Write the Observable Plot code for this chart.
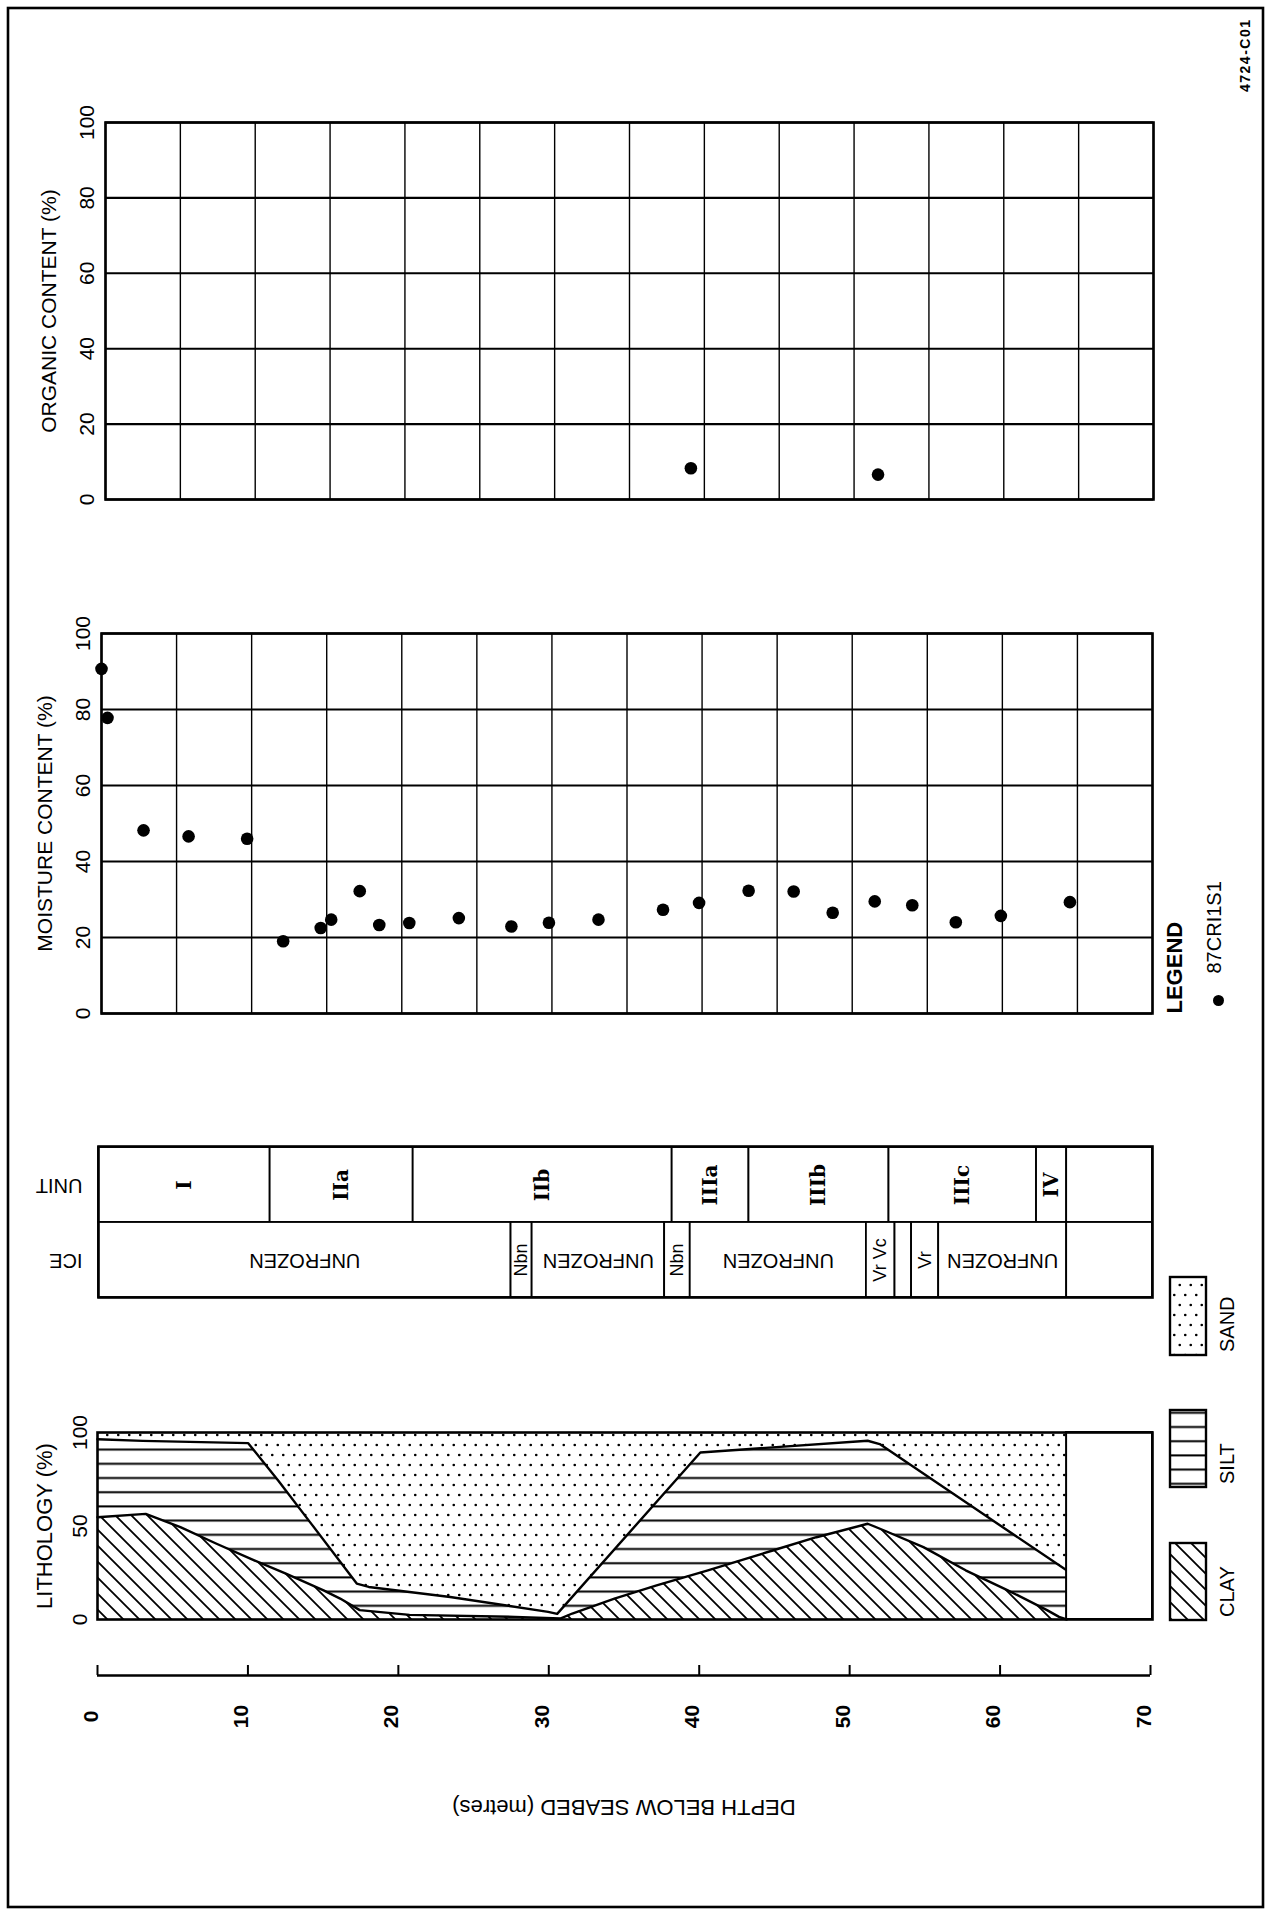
<!DOCTYPE html>
<html>
<head>
<meta charset="utf-8">
<script src="https://cdn.jsdelivr.net/npm/d3@7"></script>
<script src="https://cdn.jsdelivr.net/npm/@observablehq/plot@0.6"></script>
<style>
html, body { margin: 0; padding: 0; background: #fff; }
#page { position: relative; width: 1267px; height: 1912px; overflow: hidden; background: #fff; }
</style>
</head>
<body>
<div id="page"></div>
<script>
// ---------------- DATA ----------------
const depthTicks = [0, 10, 20, 30, 40, 50, 60, 70];
const gridDepths = [0, 5, 10, 15, 20, 25, 30, 35, 40, 45, 50, 55, 60, 65, 70];
const percentTicks = [0, 20, 40, 60, 80, 100];
const lithoTicks = [0, 50, 100];

// Organic content (%)
const organicDepth = [39.1, 51.6];
const organicValue = [8.3, 6.6];

// Moisture content (%) - 87CRI1S1
const moistureDepth = [0.0, 0.4, 2.8, 5.8, 9.7, 12.1, 14.6, 15.3, 17.2, 18.5, 20.5, 23.8, 27.3, 29.8, 33.1, 37.4, 39.8, 43.1, 46.1, 48.7, 51.5, 54.0, 56.9, 59.9, 64.5];
const moistureValue = [90.7, 77.8, 48.2, 46.6, 46.0, 19.0, 22.5, 24.7, 32.2, 23.3, 23.8, 25.1, 22.9, 23.9, 24.7, 27.3, 29.1, 32.3, 32.1, 26.5, 29.5, 28.5, 24.0, 25.7, 29.3];

// Lithology: clay (%) and clay + silt (%) boundaries
const clayDepth = [0, 3.2, 5.5, 7.9, 10.4, 12.5, 15.0, 16.1, 17.4, 20.7, 27.7, 30.7, 31.5, 34.3, 37.1, 40.5, 44.8, 47.7, 51.1, 52.2, 54.8, 57.6, 60.4, 63.0, 63.8, 64.3];
const clayValue = [54.7, 56.5, 49.4, 40.5, 31.6, 24.5, 15.6, 11.2, 5.0, 2.5, 1.4, 0.5, 3.2, 11.2, 18.3, 26.3, 36.9, 44.0, 51.2, 47.6, 38.7, 26.3, 15.6, 5.0, 1.4, 0];
const siltDepth = [0, 3.0, 10.0, 12.0, 14.2, 17.2, 18.0, 23.4, 29.9, 30.5, 40.0, 51.1, 51.9, 64.3];
const siltValue = [96.4, 95.5, 94.3, 74.2, 51.0, 19.2, 17.4, 12.0, 4.1, 3.0, 89.3, 95.6, 93.8, 26.3];

// Stratigraphic units
const unitName = ["I", "IIa", "IIb", "IIIa", "IIIb", "IIIc", "IV", ""];
const unitStart = [0, 11.4, 20.9, 38.1, 43.2, 52.5, 62.3, 64.3];
const unitEnd = [11.4, 20.9, 38.1, 43.2, 52.5, 62.3, 64.3, 70];

// Ice description
const iceName = ["UNFROZEN", "Nbn", "UNFROZEN", "Nbn", "UNFROZEN", "Vr Vc", "", "Vr", "UNFROZEN", ""];
const iceStart = [0, 27.4, 28.8, 37.6, 39.3, 51.0, 52.9, 54.0, 55.8, 64.3];
const iceEnd = [27.4, 28.8, 37.6, 39.3, 51.0, 52.9, 54.0, 55.8, 64.3, 70];

// ---------------- TABLES ----------------
const organic = organicDepth.map((d, i) => ({depth: d, value: organicValue[i]}));
const moisture = moistureDepth.map((d, i) => ({depth: d, value: moistureValue[i]}));
const clay = clayDepth.map((d, i) => ({depth: d, value: clayValue[i]}));
const silt = siltDepth.map((d, i) => ({depth: d, value: siltValue[i]}));
const units = unitName.map((n, i) => ({name: n, start: unitStart[i], end: unitEnd[i]}));
const ice = iceName.map((n, i) => ({name: n, start: iceStart[i], end: iceEnd[i]}));
const lithoEnd = siltDepth[siltDepth.length - 1];

// ---------------- HELPERS ----------------
const FONT = "'Liberation Sans', Arial, Helvetica, sans-serif";
const page = document.getElementById("page");
function place(svg, top) {
  svg.style.position = "absolute";
  svg.style.left = "0px";
  svg.style.top = top + "px";
  svg.style.maxWidth = "none";
  page.appendChild(svg);
}
const baseStyle = {background: "transparent", overflow: "visible", fontFamily: FONT, color: "black"};

function percentPanel(data, title, opts) {
  return Plot.plot({
    width: 1267, height: 440,
    marginTop: opts.mt, marginBottom: opts.mb, marginLeft: opts.ml, marginRight: opts.mr,
    style: baseStyle,
    x: {domain: [0, 70], axis: null},
    y: {domain: [0, 100], axis: null},
    marks: [
      Plot.ruleX(gridDepths, {x: d => d, stroke: "black", strokeWidth: 1.4}),
      Plot.ruleY(percentTicks, {y: d => d, stroke: "black", strokeWidth: 2.1}),
      Plot.frame({stroke: "black", strokeWidth: 2.6}),
      Plot.text(percentTicks, {y: d => d, text: d => String(d), frameAnchor: "left", textAnchor: "middle", dx: -18, rotate: -90, fontSize: 21, fill: "black"}),
      Plot.text([title], {frameAnchor: "left", textAnchor: "middle", dx: -56, rotate: -90, fontSize: 21, fill: "black"}),
      Plot.dot(data, {x: "depth", y: "value", r: 6.3, fill: "black", stroke: "none"}),
      ...(opts.extra || [])
    ]
  });
}

// ---------------- ORGANIC ----------------
place(percentPanel(organic, "ORGANIC CONTENT (%)", {mt: 32, mb: 31, ml: 105, mr: 114}), 90);

// ---------------- MOISTURE ----------------
place(percentPanel(moisture, "MOISTURE CONTENT (%)", {
  mt: 33, mb: 27, ml: 101, mr: 115,
  extra: [
    Plot.text(["LEGEND"], {frameAnchor: "bottom-right", dx: 29, rotate: -90, textAnchor: "start", fontSize: 22, fontWeight: "bold", fill: "black"}),
    Plot.dot(["87CRI1S1"], {frameAnchor: "bottom-right", dx: 66, dy: -13, r: 5.5, fill: "black"}),
    Plot.text(["87CRI1S1"], {frameAnchor: "bottom-right", dx: 68, dy: -40, rotate: -90, textAnchor: "start", fontSize: 20, fill: "black"})
  ]
}), 600);

// ---------------- UNIT / ICE ----------------
const roman = "'DejaVu Serif', 'Liberation Serif', serif";
place(Plot.plot({
  width: 1267, height: 180,
  marginTop: 16, marginBottom: 13, marginLeft: 98, marginRight: 115,
  style: baseStyle,
  x: {domain: [0, 70], axis: null},
  y: {domain: ["UNIT", "ICE"], axis: null, padding: 0},
  marks: [
    Plot.barX(units, {x1: "start", x2: "end", y: () => "UNIT", fill: "white", stroke: "black", strokeWidth: 1.8}),
    Plot.barX(ice, {x1: "start", x2: "end", y: () => "ICE", fill: "white", stroke: "black", strokeWidth: 1.8}),
    Plot.frame({stroke: "black", strokeWidth: 2.6}),
    Plot.text(units.filter(d => d.name), {x: d => (d.start + d.end) / 2, y: () => "UNIT", text: "name", rotate: -90, fontFamily: roman, fontWeight: "bold", fontSize: 20, fill: "black"}),
    Plot.text(ice.filter(d => d.name === "UNFROZEN"), {x: d => (d.start + d.end) / 2, y: () => "ICE", text: "name", rotate: 180, fontSize: 20, fill: "black"}),
    Plot.text(ice.filter(d => d.name && d.name !== "UNFROZEN"), {x: d => (d.start + d.end) / 2, y: () => "ICE", text: "name", rotate: -90, fontSize: 18, fill: "black"}),
    Plot.text(["UNIT", "ICE"], {y: d => d, text: d => d, frameAnchor: "left", dx: -16, rotate: 180, textAnchor: "start", fontSize: 20, fill: "black"})
  ]
}), 1130);

// ---------------- LITHOLOGY ----------------
place(Plot.plot({
  width: 1267, height: 240,
  marginTop: 32, marginBottom: 21, marginLeft: 97, marginRight: 115,
  style: baseStyle,
  x: {domain: [0, 70], axis: null},
  y: {domain: [0, 100], axis: null},
  marks: [
    Plot.areaY(silt, {x: "depth", y1: "value", y2: () => 100, fill: "url(#sandPat)"}),
    Plot.areaY(silt, {x: "depth", y1: () => 0, y2: "value", fill: "url(#siltPat)"}),
    Plot.areaY(clay, {x: "depth", y1: () => 0, y2: "value", fill: "url(#clayPat)"}),
    Plot.line(silt, {x: "depth", y: "value", stroke: "black", strokeWidth: 2.4}),
    Plot.line(clay, {x: "depth", y: "value", stroke: "black", strokeWidth: 2.4}),
    Plot.rect([lithoEnd], {x1: d => d, x2: () => 70, y1: () => 0, y2: () => 100, fill: "white", stroke: "black", strokeWidth: 2}),
    Plot.frame({stroke: "black", strokeWidth: 2.6}),
    Plot.text(lithoTicks, {y: d => d, text: d => String(d), frameAnchor: "left", textAnchor: "middle", dx: -17, rotate: -90, fontSize: 21, fill: "black"}),
    Plot.text(["LITHOLOGY (%)"], {frameAnchor: "left", textAnchor: "middle", dx: -53, rotate: -90, fontSize: 22, fill: "black"})
  ]
}), 1400);

// ---------------- DEPTH AXIS ----------------
place(Plot.plot({
  width: 1267, height: 200,
  marginTop: 15, marginBottom: 175, marginLeft: 97, marginRight: 117,
  style: baseStyle,
  x: {domain: [0, 70], axis: null},
  y: {domain: [0, 1], axis: null},
  marks: [
    Plot.ruleY([0], {y: d => d, stroke: "black", strokeWidth: 2.6}),
    Plot.ruleX(depthTicks, {x: d => d, stroke: "black", strokeWidth: 2}),
    Plot.text(depthTicks, {x: d => d, text: d => String(d), frameAnchor: "bottom", dy: 41, rotate: -90, fontSize: 21, fontWeight: "bold", fill: "black"}),
    Plot.text(["DEPTH BELOW SEABED (metres)"], {frameAnchor: "bottom", dy: 124, rotate: 180, fontSize: 22, fill: "black"})
  ]
}), 1650);

// ---------------- OVERLAY: patterns, frame, lithology legend ----------------
const overlay = d3.create("svg")
  .attr("width", 1267).attr("height", 1912)
  .style("position", "absolute").style("left", "0px").style("top", "0px")
  .style("pointer-events", "none")
  .style("font-family", FONT);
const defs = overlay.append("defs");
const cp = defs.append("pattern").attr("id", "clayPat").attr("patternUnits", "userSpaceOnUse").attr("width", 16).attr("height", 16);
cp.append("rect").attr("width", 16).attr("height", 16).attr("fill", "white");
cp.append("path").attr("d", "M0,0L16,16M-4,12L4,20M12,-4L20,4").attr("stroke", "black").attr("stroke-width", 1.8);
const sp = defs.append("pattern").attr("id", "siltPat").attr("patternUnits", "userSpaceOnUse").attr("width", 10).attr("height", 14.2);
sp.append("rect").attr("width", 10).attr("height", 14.2).attr("fill", "white");
sp.append("path").attr("d", "M-1,7L11,7").attr("stroke", "black").attr("stroke-width", 2);
const snp = defs.append("pattern").attr("id", "sandPat").attr("patternUnits", "userSpaceOnUse").attr("width", 11).attr("height", 20);
snp.append("rect").attr("width", 11).attr("height", 20).attr("fill", "white");
snp.append("circle").attr("cx", 2.75).attr("cy", 5).attr("r", 1.3).attr("fill", "black");
snp.append("circle").attr("cx", 8.25).attr("cy", 15).attr("r", 1.3).attr("fill", "black");

// outer border
overlay.append("rect").attr("x", 8).attr("y", 8).attr("width", 1255).attr("height", 1899)
  .attr("fill", "none").attr("stroke", "black").attr("stroke-width", 2.6);

// figure code
overlay.append("text").attr("transform", "translate(1246,92) rotate(-90)")
  .attr("dominant-baseline", "middle").attr("font-size", 14).attr("font-weight", "bold")
  .attr("letter-spacing", 1.5).text("4724-C01");

// lithology legend
const legendItems = [
  {label: "SAND", pat: "sandPat", y0: 1277, y1: 1355},
  {label: "SILT", pat: "siltPat", y0: 1410, y1: 1487},
  {label: "CLAY", pat: "clayPat", y0: 1543, y1: 1620}
];
for (const it of legendItems) {
  overlay.append("rect").attr("x", 1170).attr("y", it.y0).attr("width", 36).attr("height", it.y1 - it.y0)
    .attr("fill", `url(#${it.pat})`).attr("stroke", "black").attr("stroke-width", 2.4);
  overlay.append("text").attr("transform", `translate(1229,${it.y1 - 3}) rotate(-90)`)
    .attr("dominant-baseline", "middle").attr("font-size", 20).text(it.label);
}
page.appendChild(overlay.node());
</script>
</body>
</html>
